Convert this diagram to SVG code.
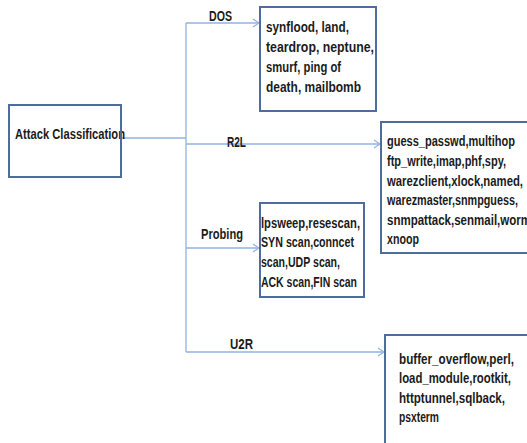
<svg xmlns="http://www.w3.org/2000/svg" width="527" height="443" viewBox="0 0 527 443">
  <defs>
    <marker id="arrow" viewBox="0 0 8 10" refX="7" refY="5" markerWidth="8" markerHeight="10" markerUnits="userSpaceOnUse" orient="auto">
      <path d="M1,1 L7,5 L1,9" fill="none" stroke="#8fb3e0" stroke-width="1.2"/>
    </marker>
    <style>
      .box { fill: #ffffff; stroke: #4e6d9c; stroke-width: 2; }
      .edge { fill: none; stroke: #8fb3e0; stroke-width: 1.3; }
      text { font-family: "Liberation Sans", Arial, sans-serif; font-size: 14px; font-weight: bold; fill: #1b1b1b; }
    </style>
  </defs>

  <!-- connectors -->
  <g id="connectors">
    <line class="edge" x1="121" y1="138" x2="186" y2="138"/>
    <line class="edge" x1="186" y1="23" x2="186" y2="352"/>
    <line class="edge" x1="186" y1="23" x2="259" y2="23" marker-end="url(#arrow)"/>
    <line class="edge" x1="186" y1="144" x2="380" y2="144" marker-end="url(#arrow)"/>
    <line class="edge" x1="186" y1="248" x2="259" y2="248" marker-end="url(#arrow)"/>
    <line class="edge" x1="186" y1="352" x2="384" y2="352" marker-end="url(#arrow)"/>
  </g>

  <!-- branch labels -->
  <g id="labels">
    <text x="209" y="21" textLength="23" lengthAdjust="spacingAndGlyphs">DOS</text>
    <text x="227" y="147" textLength="19" lengthAdjust="spacingAndGlyphs">R2L</text>
    <text x="201" y="239" textLength="42" lengthAdjust="spacingAndGlyphs">Probing</text>
    <text x="230" y="349" textLength="23" lengthAdjust="spacingAndGlyphs">U2R</text>
  </g>

  <!-- root node -->
  <g id="attack-classification">
    <rect x="9" y="105" width="112" height="72" fill="#ffffff"/>
    <text x="15" y="139" textLength="110" lengthAdjust="spacingAndGlyphs">Attack Classification</text>
    <rect x="9" y="105" width="112" height="72" fill="none" stroke="#4e6d9c" stroke-width="2"/>
  </g>

  <!-- DOS attacks -->
  <g id="dos">
    <rect class="box" x="260" y="7" width="116" height="104"/>
    <text x="266" y="32" textLength="83" lengthAdjust="spacingAndGlyphs">synflood, land,</text>
    <text x="266" y="52" textLength="108" lengthAdjust="spacingAndGlyphs">teardrop, neptune,</text>
    <text x="266" y="72" textLength="75" lengthAdjust="spacingAndGlyphs">smurf, ping of</text>
    <text x="266" y="92" textLength="95" lengthAdjust="spacingAndGlyphs">death, mailbomb</text>
  </g>

  <!-- R2L attacks -->
  <g id="r2l">
    <rect class="box" x="381" y="122" width="160" height="131"/>
    <text x="387" y="146" textLength="128" lengthAdjust="spacingAndGlyphs">guess_passwd,multihop</text>
    <text x="387" y="166" textLength="119" lengthAdjust="spacingAndGlyphs">ftp_write,imap,phf,spy,</text>
    <text x="387" y="186" textLength="136" lengthAdjust="spacingAndGlyphs">warezclient,xlock,named,</text>
    <text x="387" y="205" textLength="131" lengthAdjust="spacingAndGlyphs">warezmaster,snmpguess,</text>
    <text x="387" y="225" textLength="144" lengthAdjust="spacingAndGlyphs">snmpattack,senmail,worm</text>
    <text x="387" y="244" textLength="32" lengthAdjust="spacingAndGlyphs">xnoop</text>
  </g>

  <!-- Probing attacks -->
  <g id="probing">
    <rect class="box" x="260" y="203" width="104" height="94"/>
    <text x="261" y="228" textLength="99" lengthAdjust="spacingAndGlyphs">lpsweep,resescan,</text>
    <text x="261" y="247" textLength="93" lengthAdjust="spacingAndGlyphs">SYN scan,conncet</text>
    <text x="261" y="267" textLength="79" lengthAdjust="spacingAndGlyphs">scan,UDP scan,</text>
    <text x="261" y="287" textLength="96" lengthAdjust="spacingAndGlyphs">ACK scan,FIN scan</text>
  </g>

  <!-- U2R attacks -->
  <g id="u2r">
    <rect class="box" x="385" y="335" width="160" height="120"/>
    <text x="399" y="364" textLength="115" lengthAdjust="spacingAndGlyphs">buffer_overflow,perl,</text>
    <text x="399" y="383" textLength="112" lengthAdjust="spacingAndGlyphs">load_module,rootkit,</text>
    <text x="399" y="403" textLength="106" lengthAdjust="spacingAndGlyphs">httptunnel,sqlback,</text>
    <text x="399" y="422" textLength="40" lengthAdjust="spacingAndGlyphs">psxterm</text>
  </g>
</svg>
